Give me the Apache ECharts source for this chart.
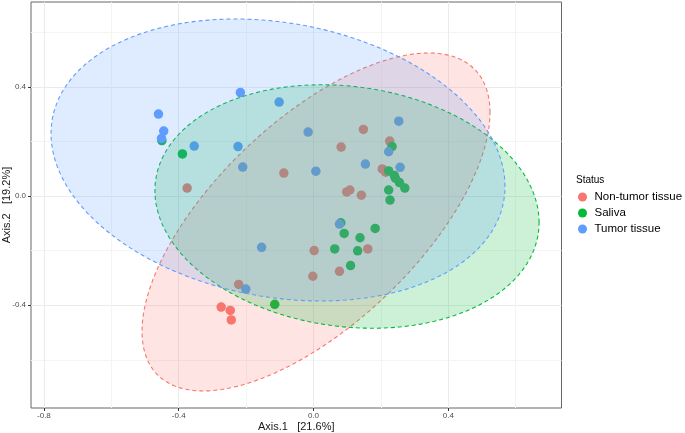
<!DOCTYPE html>
<html><head><meta charset="utf-8">
<script src="https://cdn.jsdelivr.net/npm/echarts@6/dist/echarts.min.js"></script>
<style>html,body{margin:0;padding:0;background:#fff}#c{width:685px;height:433px}</style>
</head><body><div id="c"></div>
<script>
// ---- data ----
const groupNames = ['Non-tumor tissue', 'Saliva', 'Tumor tissue'];
const groupColors = ['#F8766D', '#00BA38', '#619CFF'];

const nonTumorX = [-0.375, -0.088, 0.082, 0.148, 0.226, 0.204, 0.214, 0.108, 0.0985, 0.142, 0.161, 0.002, 0.077, -0.002, -0.222, -0.274, -0.247, -0.244];
const nonTumorY = [0.029, 0.084, 0.179, 0.244, 0.201, 0.099, 0.087, 0.022, 0.015, 0.003, -0.194, -0.200, -0.276, -0.294, -0.324, -0.407, -0.419, -0.454];

const salivaX = [-0.450, -0.389, 0.233, 0.223, 0.240, 0.243, 0.255, 0.271, 0.223, 0.227, 0.081, 0.091, 0.183, 0.138, 0.063, 0.131, 0.110, -0.115];
const salivaY = [0.203, 0.154, 0.181, 0.092, 0.075, 0.065, 0.049, 0.029, 0.022, -0.015, -0.098, -0.137, -0.119, -0.153, -0.194, -0.201, -0.255, -0.397];

const tumorX = [-0.460, -0.4445, -0.451, -0.354, -0.217, -0.224, -0.210, -0.102, -0.016, 0.007, 0.253, 0.223, 0.154, 0.257, 0.077, -0.154, -0.201];
const tumorY = [0.300, 0.238, 0.211, 0.183, 0.379, 0.181, 0.106, 0.344, 0.234, 0.091, 0.274, 0.162, 0.117, 0.105, -0.103, -0.188, -0.341];

// 95% ellipses (centre and two conjugate half-diameters, data units), per group
const ellipseCenter = [[0.0074, -0.0952], [0.0994, -0.0385], [-0.1053, 0.1319]];
const ellipseU = [[0.5163, 0.4010], [0.5700, -0.0584], [0.6736, -0.0968]];
const ellipseV = [[0.0, 0.4715], [0.0, 0.4421], [0.0, 0.5073]];

const xTicks = [-0.8, -0.4, 0.0, 0.4];
const xMinorTicks = [-0.6, -0.2, 0.2, 0.6];
const yTicks = [-0.4, 0.0, 0.4];
const yMinorTicks = [-0.6, -0.2, 0.2, 0.6];
const xRange = [-0.8383, 0.7359];
const yRange = [-0.7766, 0.7106];
const xTitle = 'Axis.1   [21.6%]';
const yTitle = 'Axis.2   [19.2%]';
const legendTitle = 'Status';

// ---- build ----
const FONT = 'Liberation Sans, Arial, Helvetica, sans-serif';
const pointSets = [[nonTumorX, nonTumorY], [salivaX, salivaY], [tumorX, tumorY]];
const fills = ['rgba(248,118,109,0.2)', 'rgba(0,186,56,0.2)', 'rgba(97,156,255,0.2)'];

function ellipseOutline(i) {
  const c = ellipseCenter[i], u = ellipseU[i], v = ellipseV[i];
  const pts = [];
  const n = 160;
  for (let k = 0; k < n; k++) {
    const t = k / n * 2 * Math.PI;
    pts.push([c[0] + u[0] * Math.cos(t) + v[0] * Math.sin(t),
              c[1] + u[1] * Math.cos(t) + v[1] * Math.sin(t)]);
  }
  return pts;
}

const series = [];
groupNames.forEach((g, i) => {
  const xs = pointSets[i][0], ys = pointSets[i][1];
  series.push({
    type: 'scatter', name: g, xAxisIndex: 0, yAxisIndex: 0,
    data: xs.map((x, k) => [x, ys[k]]),
    symbolSize: 9.5, z: 2,
    itemStyle: { color: groupColors[i], opacity: 1 },
    emphasis: { disabled: true }
  });
});
groupNames.forEach((g, i) => {
  const pts = ellipseOutline(i);
  series.push({
    type: 'custom', name: 'ellipse-' + g, xAxisIndex: 0, yAxisIndex: 0,
    data: pts, z: 3, silent: true,
    encode: { x: 0, y: 1 },
    renderItem: function (params, api) {
      if (params.dataIndex !== 0) return null;
      return {
        type: 'polygon',
        shape: { points: pts.map(p => api.coord(p)) },
        style: { fill: fills[i], stroke: groupColors[i], lineWidth: 1.1, lineDash: [4, 3] }
      };
    }
  });
});

const baseLabel = { color: '#4D4D4D', fontSize: 8, fontFamily: FONT };
const chart = echarts.init(document.getElementById('c'), null, { renderer: 'canvas' });
chart.setOption({
  animation: false,
  backgroundColor: '#ffffff',
  title: { text: legendTitle, left: 576, top: 175, padding: 0,
    textStyle: { fontSize: 10, fontWeight: 'normal', color: '#000', fontFamily: FONT } },
  legend: {
    data: groupNames, orient: 'vertical', left: 578, top: 191, padding: 0,
    icon: 'circle', itemWidth: 14, itemHeight: 9, itemGap: 4,
    textStyle: { fontSize: 11.5, color: '#000', fontFamily: FONT },
    selectedMode: false
  },
  grid: { left: 31, right: 123.5, top: 2, bottom: 25, show: true,
    containLabel: false, outerBoundsMode: 'none',
    borderColor: '#666', borderWidth: 1, backgroundColor: '#fff' },
  xAxis: [
    { type: 'value', min: xRange[0], max: xRange[1], position: 'bottom',
      name: xTitle, nameLocation: 'middle', nameGap: 13, nameMoveOverlap: false,
      nameTextStyle: { color: '#1a1a1a', fontSize: 11, fontFamily: FONT },
      axisLine: { show: false, onZero: false },
      axisTick: { show: true, length: 3, customValues: xTicks, lineStyle: { color: '#333' } },
      axisLabel: { customValues: xTicks, margin: 4, formatter: v => v.toFixed(1), ...baseLabel },
      splitLine: { show: true, lineStyle: { color: '#EBEBEB', width: 1 } } },
    { type: 'value', min: xRange[0], max: xRange[1], position: 'bottom',
      axisLine: { show: false, onZero: false },
      axisTick: { show: false, customValues: xMinorTicks },
      axisLabel: { show: false, customValues: xMinorTicks },
      splitLine: { show: true, lineStyle: { color: '#F4F4F4', width: 1 } } }
  ],
  yAxis: [
    { type: 'value', min: yRange[0], max: yRange[1], position: 'left',
      name: yTitle, nameLocation: 'middle', nameGap: 19, nameRotate: 90, nameMoveOverlap: false,
      nameTextStyle: { color: '#1a1a1a', fontSize: 11, fontFamily: FONT },
      axisLine: { show: false, onZero: false },
      axisTick: { show: true, length: 3, customValues: yTicks, lineStyle: { color: '#333' } },
      axisLabel: { customValues: yTicks, margin: 5, formatter: v => v.toFixed(1), ...baseLabel },
      splitLine: { show: true, lineStyle: { color: '#EBEBEB', width: 1 } } },
    { type: 'value', min: yRange[0], max: yRange[1], position: 'left',
      axisLine: { show: false, onZero: false },
      axisTick: { show: false, customValues: yMinorTicks },
      axisLabel: { show: false, customValues: yMinorTicks },
      splitLine: { show: true, lineStyle: { color: '#F4F4F4', width: 1 } } }
  ],
  series: series
});
</script>
</body></html>
